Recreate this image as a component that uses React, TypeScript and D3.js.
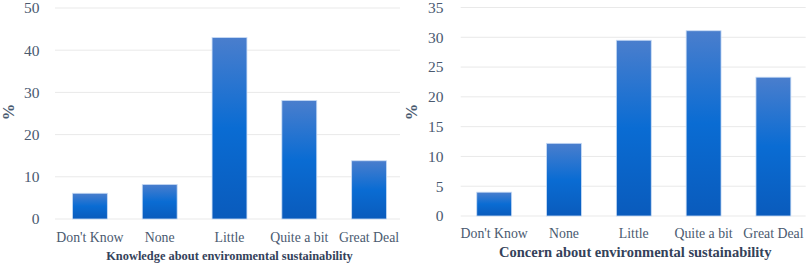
import React from "react";
import * as d3 from "d3";

const categories = ["Don't Know", "None", "Little", "Quite a bit", "Great Deal"];
const knowledgeValues = [6.1, 8.2, 43.0, 28.1, 13.8];
const concernValues = [4.0, 12.2, 29.5, 31.1, 23.3];
const knowledgeTicks = [0, 10, 20, 30, 40, 50];
const concernTicks = [0, 5, 10, 15, 20, 25, 30, 35];
const knowledgeTitle = "Knowledge about environmental sustainability";
const concernTitle = "Concern about environmental sustainability";

const FONT = "'Liberation Serif', 'Times New Roman', serif";
const TEXT = "#4a5a70";
const TITLE = "#34425a";

type PanelProps = {
  values: number[];
  ticks: number[];
  max: number;
  title: string;
  titleSize: number;
  titleY: number;
  bandRange: [number, number];
  gridRange: [number, number];
  yRange: [number, number];
  tickX: number;
  catY: number;
  pctX: number;
};

function Panel(p: PanelProps) {
  const x = d3.scaleBand<string>().domain(categories).range(p.bandRange).paddingInner(0.5).paddingOuter(0.25);
  const y = d3.scaleLinear().domain([0, p.max]).range(p.yRange);
  const titleX = (p.gridRange[0] + p.gridRange[1]) / 2 + 2;
  return (
    <g>
      {p.ticks.map((t) => (
        <g key={t}>
          <line x1={p.gridRange[0]} x2={p.gridRange[1]} y1={y(t)} y2={y(t)} stroke="#e9e9e9" strokeWidth={1} />
          <text x={p.tickX} y={y(t)} dy="0.35em" textAnchor="end" fontFamily={FONT} fontSize={15.5} fill={TEXT}>
            {t}
          </text>
        </g>
      ))}
      {categories.map((c, i) => (
        <rect
          key={c}
          x={x(c)}
          y={y(p.values[i])}
          width={x.bandwidth()}
          height={y(0) - y(p.values[i])}
          fill="url(#barGrad)"
          stroke="#c9dcf5"
          strokeWidth={0.8}
        />
      ))}
      {categories.map((c) => (
        <text key={c} x={(x(c) as number) + x.bandwidth() / 2} y={p.catY} textAnchor="middle" fontFamily={FONT} fontSize={13.8} fill={TEXT}>
          {c}
        </text>
      ))}
      <text x={titleX} y={p.titleY} textAnchor="middle" fontFamily={FONT} fontWeight="bold" fontSize={p.titleSize} fill={TITLE}>
        {p.title}
      </text>
      <text
        transform={`translate(${p.pctX},112) rotate(-90)`}
        textAnchor="middle"
        fontFamily={FONT}
        fontWeight="bold"
        fontSize={16.5}
        fill={TEXT}
      >
        %
      </text>
    </g>
  );
}

export default function App() {
  return (
    <svg width={809} height={264} style={{ position: "absolute", left: 0, top: 0, background: "#fff" }}>
      <defs>
        <linearGradient id="barGrad" x1="0" y1="0" x2="0" y2="1">
          <stop offset="0%" stopColor="#4a7ecd" />
          <stop offset="50%" stopColor="#0a6cd3" />
          <stop offset="100%" stopColor="#0a5bbc" />
        </linearGradient>
      </defs>
      <rect width={809} height={264} fill="#fff" />
      <Panel
        values={knowledgeValues}
        ticks={knowledgeTicks}
        max={50}
        title={knowledgeTitle}
        titleSize={12.4}
        titleY={260}
        bandRange={[55, 404]}
        gridRange={[55, 400]}
        yRange={[219, 8]}
        tickX={39.5}
        catY={241.5}
        pctX={14}
      />
      <Panel
        values={concernValues}
        ticks={concernTicks}
        max={35}
        title={concernTitle}
        titleSize={14.5}
        titleY={257}
        bandRange={[459.3, 808.3]}
        gridRange={[460.7, 805.7]}
        yRange={[216, 7.5]}
        tickX={443.5}
        catY={238}
        pctX={417}
      />
    </svg>
  );
}
